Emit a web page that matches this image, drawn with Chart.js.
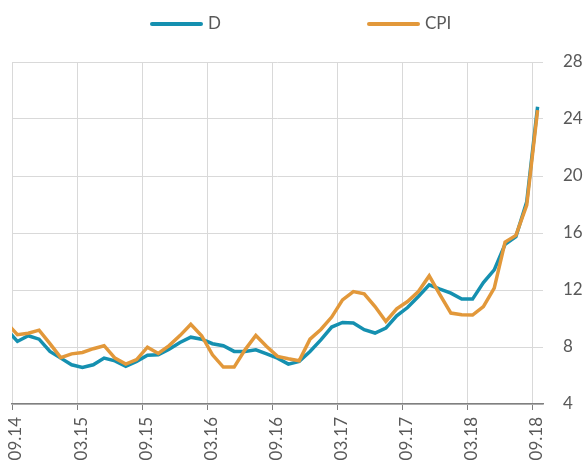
<!DOCTYPE html>
<html>
<head>
<meta charset="utf-8">
<script src="https://cdn.jsdelivr.net/npm/chart.js@4"></script>
<style>
    html, body { margin: 0; padding: 0; background: #ffffff; }
    #wrap { position: relative; width: 585px; height: 467px; }
    #legend { position: absolute; left: 0; top: 0; width: 585px; height: 50px; font-family: Lato, sans-serif; font-size: 17px; color: #595959; }
    .item { position: absolute; top: 12px; height: 22px; line-height: 22px; white-space: nowrap; }
    .swatch { display: inline-block; width: 53px; height: 4px; border-radius: 2px; vertical-align: middle; margin-right: 5px; position: relative; top: -1px; }
</style>
</head>
<body>
<div id="wrap">
    <div id="legend"></div>
    <canvas id="chart" width="585" height="467"></canvas>
</div>
<script>
// DATA (monthly, 08.14 - 09.18; first month sits just left of the axis start)

const tickLabels = ["09.14", "03.15", "09.15", "03.16", "09.16", "03.17", "09.17", "03.18", "09.18"];

const dValues = [
    9.23,
    8.39, 8.79, 8.55, 7.69, 7.22, 6.75, 6.56, 6.75, 7.22, 7.03, 6.64, 6.99,
    7.42, 7.45, 7.85, 8.32, 8.69, 8.55, 8.23, 8.09, 7.69, 7.69, 7.80, 7.52,
    7.22, 6.80, 6.99, 7.69, 8.50, 9.40, 9.72, 9.68, 9.21, 8.98, 9.33, 10.19,
    10.77, 11.54, 12.36, 12.06, 11.78, 11.36, 11.36, 12.52, 13.41, 15.20, 15.75, 18.20,
    24.86,
];

const cpiValues = [
    9.70,
    8.86, 8.97, 9.18, 8.24, 7.25, 7.52, 7.62, 7.88, 8.09, 7.22, 6.80, 7.12,
    7.99, 7.55, 8.10, 8.80, 9.60, 8.79, 7.45, 6.59, 6.59, 7.80, 8.81, 8.04,
    7.34, 7.17, 7.03, 8.55, 9.23, 10.10, 11.31, 11.89, 11.73, 10.84, 9.79, 10.68,
    11.19, 11.89, 12.99, 11.66, 10.38, 10.26, 10.24, 10.84, 12.13, 15.36, 15.83, 17.95,
    24.62,
];

const yTicks = [4, 8, 12, 16, 20, 24, 28];

// month offset from 09.14, points plotted mid-month
const toPoints = (values) => values.map((v, i) => ({ x: i - 0.5, y: v }));

const BLUE = "#1590b0";
const ORANGE = "#e2983a";
const GREY_TEXT = "#595959";

const datasets = [
    {
        label: "D",
        data: toPoints(dValues),
        borderColor: BLUE,
        backgroundColor: BLUE,
        borderWidth: 3.5,
        pointRadius: 0,
        tension: 0,
        order: 2,
    },
    {
        label: "CPI",
        data: toPoints(cpiValues),
        borderColor: ORANGE,
        backgroundColor: ORANGE,
        borderWidth: 3.5,
        pointRadius: 0,
        tension: 0,
        order: 1,
    },
];

new Chart(document.getElementById("chart"), {
    type: "line",
    data: { datasets: datasets },
    options: {
        responsive: false,
        animation: false,
        layout: {
            padding: { top: 62, left: 12, right: 0, bottom: 0 },
        },
        plugins: {
            legend: { display: false },
            tooltip: { enabled: false },
        },
        scales: {
            x: {
                type: "linear",
                min: 0,
                max: 49,
                afterBuildTicks: (scale) => {
                    scale.ticks = tickLabels.map((t, i) => ({ value: i * 6 }));
                },
                afterFit: (scale) => {
                    scale.height = 63;
                },
                grid: {
                    color: "#d9d9d9",
                    tickColor: "#808080",
                    tickLength: 6,
                    lineWidth: 1,
                },
                border: {
                    color: "#808080",
                    width: 1.5,
                },
                ticks: {
                    autoSkip: false,
                    maxRotation: 90,
                    minRotation: 90,
                    padding: 7,
                    labelOffset: 4,
                    color: GREY_TEXT,
                    font: { family: "Lato", size: 17 },
                    callback: (value) => tickLabels[value / 6],
                },
            },
            y: {
                position: "right",
                min: 4,
                max: 28,
                afterBuildTicks: (scale) => {
                    scale.ticks = yTicks.map((v) => ({ value: v }));
                },
                afterFit: (scale) => {
                    scale.width = 42;
                },
                grid: {
                    color: "#d9d9d9",
                    drawTicks: false,
                },
                border: { display: false },
                ticks: {
                    padding: 20,
                    color: GREY_TEXT,
                    font: { family: "Lato", size: 17 },
                },
            },
        },
    },
});

// LEGEND

const legend = document.getElementById("legend");
const legendLeft = [150, 367];
datasets.forEach((ds, i) => {
    const item = document.createElement("div");
    item.className = "item";
    item.style.left = legendLeft[i] + "px";
    const sw = document.createElement("span");
    sw.className = "swatch";
    sw.style.background = ds.borderColor;
    item.appendChild(sw);
    item.appendChild(document.createTextNode(ds.label));
    legend.appendChild(item);
});
</script>
</body>
</html>
